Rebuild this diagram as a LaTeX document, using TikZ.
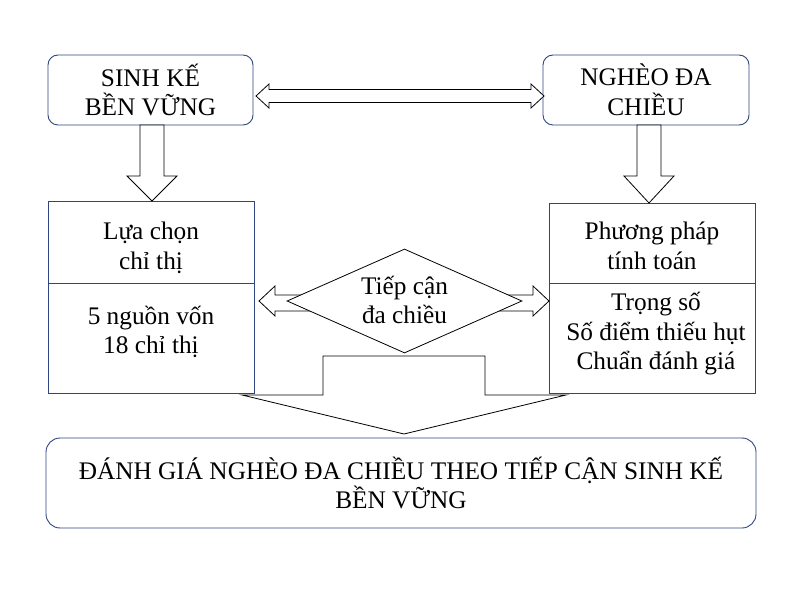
\documentclass[tikz,border=0pt]{standalone}
\usepackage{fontspec}
\setmainfont{Liberation Serif}
\usetikzlibrary{shapes.geometric}
\definecolor{bd}{HTML}{2F4580}
\begin{document}
\begin{tikzpicture}[x=1pt,y=-1pt,
  rbox/.style={draw=bd,line width=0.9pt,rounded corners=10pt,fill=white,inner sep=0pt},
  sbox/.style={draw=bd,line width=0.9pt,fill=white,inner sep=0pt},
  txt/.style={align=center,font=\fontsize{25.3}{29.5}\selectfont},
  blk/.style={draw=black,line width=0.8pt,fill=white}]
\useasboundingbox (0,0) rectangle (811,593);
% top boxes
\node[rbox,minimum width=205,minimum height=70] (sk) at (150.5,90) {};
\node[txt] (skt) at (150.5,90) {SINH KẾ\\BỀN VỮNG};
\node[rbox,minimum width=206,minimum height=70] (ng) at (646,90) {};
\node[txt] (ngt) at (646,90) {NGHÈO ĐA\\CHIỀU};
% middle boxes
\node[sbox,minimum width=206,minimum height=192] (lb) at (151,297) {};
\draw[bd,line width=0.9pt] (48,283) -- (254,283);
\node[txt] (lt1) at (151,248) {Lựa chọn\\chỉ thị};
\node[txt] (lt2) at (151,332) {5 nguồn vốn\\18 chỉ thị};
\node[sbox,minimum width=206,minimum height=190] (rb) at (652,298) {};
\draw[bd,line width=0.9pt] (549,283) -- (755,283);
\node[txt] (rt1) at (652,246) {Phương pháp\\tính toán};
\node[txt] (rt2) at (656,334) {Trọng số\\Số điểm thiếu hụt\\Chuẩn đánh giá};
% bottom box
\node[rbox,minimum width=710,minimum height=90,rounded corners=14pt] (bt) at (401,483) {};
\node[txt] (btt) at (401,483) {ĐÁNH GIÁ NGHÈO ĐA CHIỀU THEO TIẾP CẬN SINH KẾ\\BỀN VỮNG};
% top double arrow
\draw[blk] (256,96) -- (269,84) -- (269,89.5) -- (531,89.5) -- (531,84) -- (544,96) -- (531,108) -- (531,102.5) -- (269,102.5) -- (269,108) -- cycle;
% down arrows
\draw[blk] (140,125) -- (164,125) -- (164,176) -- (177,176) -- (152,201) -- (127,176) -- (140,176) -- cycle;
\draw[blk] (637,125) -- (661,125) -- (661,176) -- (674,176) -- (649,203) -- (624,176) -- (637,176) -- cycle;
% middle double arrow
\draw[blk] (259,301) -- (275,286) -- (275,295) -- (533,295) -- (533,286) -- (549,301) -- (533,316) -- (533,311) -- (275,311) -- (275,316) -- cycle;
% diamond
\node[diamond,draw=black,line width=0.8pt,fill=white,minimum width=235,minimum height=104,inner sep=0pt] (dm) at (404.5,301) {};
\node[txt] (dmt) at (404.5,300) {Tiếp cận\\đa chiều};
% bottom block arrow
\draw[blk] (323,356) -- (485,356) -- (485,395) -- (566,395) -- (404,434) -- (242,395) -- (323,395) -- cycle;
\end{tikzpicture}
\end{document}
